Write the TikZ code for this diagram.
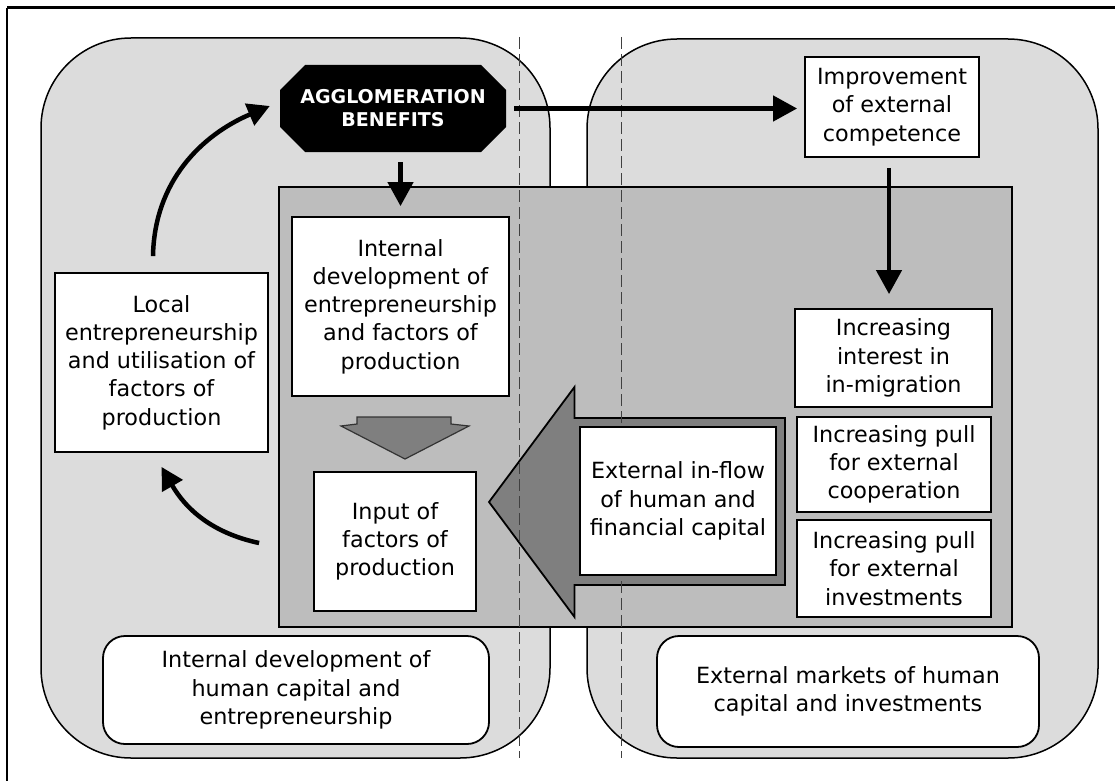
\documentclass[tikz,border=0pt]{standalone}
\usepackage{fontspec}
\setmainfont{DejaVu Sans}
\usetikzlibrary{arrows.meta}
\definecolor{panelgray}{HTML}{DCDCDC}
\definecolor{midgray}{HTML}{BDBDBD}
\definecolor{darkfill}{HTML}{7F7F7F}
\newcommand{\boxfont}{\fontsize{22.3}{28.3}\selectfont}
\newcommand{\aggfont}{\bfseries\fontsize{19}{23}\selectfont}
\tikzset{
  panel/.style={fill=panelgray, draw=black, line width=1.5pt, rounded corners=90pt},
  txtbox/.style={draw=black, fill=white, line width=1.8pt, inner sep=0pt, align=center, font=\boxfont},
  roundbox/.style={txtbox, rounded corners=22pt},
  flowarrow/.style={line width=4.5pt, -{Triangle[length=24pt,width=25pt]}},
  curvearrow/.style={line width=4.5pt, -{Triangle[length=22pt,width=23pt]}},
  divider/.style={draw=black!75, line width=1.1pt, dash pattern=on 12pt off 5pt},
}
\begin{document}
\begin{tikzpicture}[x=1pt,y=-1pt]
\useasboundingbox (0,0) rectangle (1115,781);
\fill[white] (0,0) rectangle (1115,781);
% frame
\draw[line width=3pt] (7,8) -- (1115,8);
\draw[line width=2pt] (7,8) -- (7,781);
% panels
\draw[panel] (41,38) rectangle (550,758);
\draw[panel] (587,39) rectangle (1098,758);
% middle region
\draw[fill=midgray, draw=black, line width=1.8pt] (279,187) rectangle (1012,627);
% big block arrow
\draw[fill=darkfill, draw=black, line width=1.8pt, line join=miter]
  (785,418) -- (574.5,418) -- (574.5,387) -- (489,502) -- (574.5,617) -- (574.5,585) -- (785,585) -- cycle;
% dividers
\draw[divider] (519.5,37) -- (519.5,758);
\draw[divider] (621.5,37) -- (621.5,758);
% chevron
\draw[fill=darkfill, draw=black!80, line width=1.2pt, line join=miter]
  (357,417) -- (451,417) -- (451,424) -- (469,426) -- (405,459) -- (341,426) -- (357,424) -- cycle;
% agglomeration octagon
\fill[black] (305,65) -- (481,65) -- (506,90) -- (506,127) -- (481,152) -- (305,152) -- (280,127) -- (280,90) -- cycle;
\node[minimum width=226pt, minimum height=87pt, inner sep=0pt, align=center, text=white, font=\aggfont] (agg) at (393,108.5) {AGGLOMERATION\\BENEFITS};
% boxes
\node[txtbox, minimum width=213pt, minimum height=179pt] (local) at (161.5,362.5) {Local\\entrepreneurship\\and utilisation of\\factors of\\production};
\node[txtbox, minimum width=217pt, minimum height=179pt] (internal) at (400.5,306.5) {Internal\\development of\\entrepreneurship\\and factors of\\production};
\node[txtbox, minimum width=162pt, minimum height=139pt] (input) at (395,541.5) {Input of\\factors of\\production};
\node[txtbox, minimum width=174pt, minimum height=100pt] (impr) at (892,107) {Improvement\\of external\\competence};
\node[txtbox, minimum width=197pt, minimum height=98pt] (interest) at (893.5,358) {Increasing\\interest in\\in-migration};
\node[txtbox, minimum width=194pt, minimum height=95pt] (coop) at (894,464.5) {Increasing pull\\for external\\cooperation};
\node[txtbox, minimum width=194pt, minimum height=97pt] (invest) at (894,568.5) {Increasing pull\\for external\\investments};
\node[txtbox, minimum width=196pt, minimum height=148pt] (ext) at (678,501) {External in-flow\\of human and\\financial capital};
\node[roundbox, minimum width=386pt, minimum height=108pt] (intdev) at (296,690) {Internal development of\\human capital and\\entrepreneurship};
\node[roundbox, minimum width=382pt, minimum height=111pt] (extmark) at (848,691.5) {External markets of human\\capital and investments};
% connectors
\draw[flowarrow, shorten <=8pt, shorten >=7pt] (agg.east) -- (impr.west |- agg.east);
\draw[flowarrow, shorten <=10pt, shorten >=10pt] (internal.north |- agg.south) -- (internal.north);
\draw[flowarrow, shorten <=10pt, shorten >=14pt] ([xshift=-3pt]impr.south) -- ([xshift=-3pt]impr.south |- interest.north);
\draw[curvearrow] ([xshift=-8.5pt,yshift=16pt]local.north) to[out=89,in=203] ([xshift=-10pt,yshift=2.5pt]agg.west);
\draw[curvearrow] ([xshift=-54pt,yshift=-1.5pt]input.west) to[out=168,in=-60] ([yshift=-14pt]local.south);
\end{tikzpicture}
\end{document}
